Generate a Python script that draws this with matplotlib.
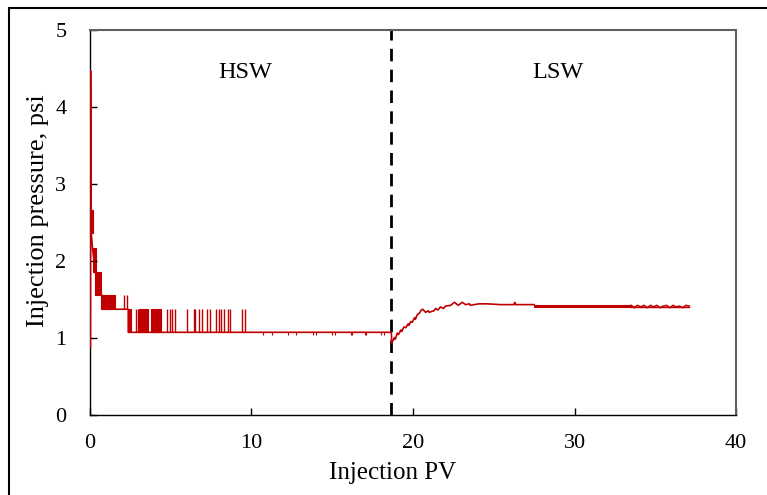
import matplotlib
matplotlib.use("Agg")
import matplotlib.pyplot as plt
from matplotlib.patches import Rectangle

plt.rcParams['font.family'] = ['Liberation Serif', 'DejaVu Serif']

RED = '#C00000'

# ---- data ----
# main pressure trace (Injection PV, psi)
line_x = [0.03, 0.04, 0.06, 0.08, 0.16, 0.33, 0.70, 1.54, 2.37, 2.37, 9.60, 18.66,
          18.68, 18.85, 18.90, 19.03, 19.10, 19.25, 19.30, 19.44, 19.55, 19.70, 19.75,
          19.86, 19.95, 20.10, 20.15, 20.27, 20.40, 20.52, 20.60, 20.78, 20.95, 21.00,
          21.30, 21.40, 21.55, 21.70, 21.90, 22.00, 22.33, 22.57, 22.80, 23.05, 23.25,
          23.50, 23.55, 23.77, 24.10, 24.60, 25.40, 26.25, 26.30, 26.35, 27.50]
line_y = [0.87, 4.47, 2.66, 2.36, 2.16, 1.86, 1.56, 1.37, 1.37, 1.07, 1.07, 1.07,
          0.93, 1.00, 0.98, 1.06, 1.04, 1.10, 1.08, 1.14, 1.13, 1.18, 1.16,
          1.21, 1.20, 1.26, 1.24, 1.30, 1.32, 1.36, 1.37, 1.33, 1.35, 1.33,
          1.35, 1.38, 1.36, 1.40, 1.38, 1.41, 1.42, 1.46, 1.42, 1.46, 1.43,
          1.44, 1.42, 1.43, 1.44, 1.44, 1.43, 1.43, 1.46, 1.43, 1.43]

# densely oscillating parts (x0, x1, low, high)
block_x0 = [0.06, 0.16, 0.33, 0.70, 2.37, 3.05, 3.77, 27.50]
block_x1 = [0.21, 0.37, 0.70, 1.54, 2.57, 3.60, 4.38, 33.50]
block_lo = [2.36, 1.86, 1.56, 1.37, 1.07, 1.07, 1.07, 1.40]
block_hi = [2.66, 2.16, 1.86, 1.56, 1.37, 1.37, 1.37, 1.43]

# single jumps 1.07 -> 1.37 psi in HSW
spike_x = [2.84, 2.98, 4.79, 4.94, 5.10, 5.25, 6.00, 6.42, 6.52, 6.77, 6.91,
           7.26, 7.41, 7.82, 7.96, 8.13, 8.27, 8.54, 8.68, 9.42, 9.60]
# jumps 1.37 -> 1.56 psi
spike2_x = [2.12, 2.30]
# small dips below 1.07 psi
dip_x = [10.74, 11.25, 12.28, 12.76, 13.80, 14.00, 15.00, 15.20, 16.15, 16.25,
         17.00, 17.10, 18.00, 18.20]

# noisy tail of LSW
tail_x = [33.5, 33.7, 33.9, 34.1, 34.3, 34.5, 34.7, 34.9, 35.1, 35.3, 35.5, 35.7,
          35.9, 36.1, 36.3, 36.5, 36.7, 36.9, 37.1]
tail_y = [1.42, 1.39, 1.42, 1.40, 1.42, 1.39, 1.42, 1.40, 1.42, 1.39, 1.41, 1.42,
          1.39, 1.42, 1.40, 1.41, 1.39, 1.42, 1.41]

switch_pv = 18.65
x_ticks = [0, 10, 20, 30, 40]
y_ticks = [0, 1, 2, 3, 4, 5]

fig = plt.figure(figsize=(7.67, 4.95), dpi=100)
ax = fig.add_axes([0.1173, 0.1624, 0.8423, 0.777])

ax.plot(line_x, line_y, color=RED, lw=1.2, zorder=3)
for x0, x1, lo, hi in zip(block_x0, block_x1, block_lo, block_hi):
    ax.fill_between([x0, x1], [lo, lo], [hi, hi], color=RED, lw=0.8)
ax.vlines(spike_x, 1.07, 1.37, color=RED, lw=1.0)
ax.vlines(spike2_x, 1.37, 1.56, color=RED, lw=1.0)
ax.vlines(dip_x, 1.03, 1.07, color=RED, lw=0.8)
ax.plot(tail_x, tail_y, color=RED, lw=1.2)
ax.plot([33.5, 37.1], [1.405, 1.405], color=RED, lw=1.0)

ax.axvline(switch_pv, color='black', lw=2.0, ls=(0, (4.5, 3)))

ax.text(9.6, 4.45, 'HSW', ha='center', va='center', fontsize=17.5)
ax.text(29.0, 4.45, 'LSW', ha='center', va='center', fontsize=17.5)

ax.set_xlim(0, 40)
ax.set_ylim(0, 5)
ax.set_xticks(x_ticks)
ax.set_yticks(y_ticks)
ax.tick_params(axis='both', direction='in', length=5, width=1, labelsize=16,
               colors='black')
ax.tick_params(axis='x', pad=14)
ax.tick_params(axis='y', pad=17)
ax.set_xlabel('Injection PV', fontsize=18)
ax.set_ylabel('Injection pressure, psi', fontsize=19)
ax.xaxis.set_label_coords(0.468, -0.122)
ax.yaxis.set_label_coords(-0.064, 0.53)

for s in ['left', 'bottom']:
    ax.spines[s].set_color('black')
    ax.spines[s].set_linewidth(1.0)
for s in ['top', 'right']:
    ax.spines[s].set_color('#606060')
    ax.spines[s].set_linewidth(1.5)

fig.patches.append(Rectangle((9 / 767, -0.1), 1.2, 1.1 - 8 / 495,
                             transform=fig.transFigure, fill=False,
                             edgecolor='black', lw=1.5))

fig.savefig('out.png', dpi=100)
